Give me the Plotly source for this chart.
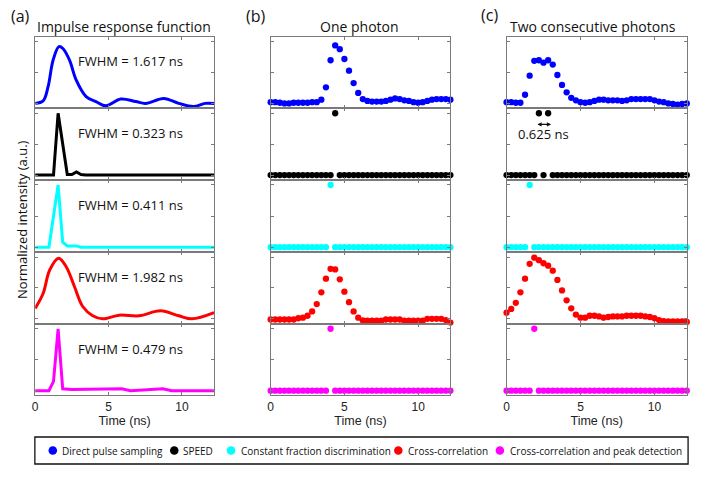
import plotly.graph_objects as go

W, H = 707, 484

# ---------------- data ----------------
# (a) impulse response functions (time in ns, normalized intensity)
irf_dps_t = [0, 0.54, 0.88, 1.22, 1.62, 1.89, 2.34, 2.79, 3.47, 4.14, 4.82, 5.83, 6.85, 7.52, 8.76, 9.78, 10.79, 11.58, 12.1875]
irf_dps_v = [0.0, 0.04, 0.27, 0.70, 0.92, 0.89, 0.70, 0.38, 0.11, 0.03, -0.04, 0.07, 0.03, 0.0, 0.08, 0.0, -0.05, 0.0, 0.0]

irf_speed_t = [0, 1.25, 1.5625, 2.1875, 2.5, 2.8125, 3.125, 3.4375, 12.1875]
irf_speed_v = [0.0, 0.0, 1.0, 0.01, 0.01, 0.05, 0.01, 0.0, 0.0]

irf_cfd_t = [0, 0.9375, 1.5625, 1.875, 2.1875, 2.8125, 3.125, 12.1875]
irf_cfd_v = [0.0, 0.0, 1.0, 0.08, 0.02, 0.02, 0.0, 0.0]

irf_xc_t = [0, 0.54, 0.99, 1.6, 2.12, 2.68, 3.24, 3.92, 4.59, 5.72, 7.07, 8.54, 9.78, 10.68, 12.1875]
irf_xc_v = [0.17, 0.41, 0.79, 0.98, 0.84, 0.52, 0.20, 0.05, 0.0, 0.06, 0.05, 0.13, 0.05, 0.0, 0.10]

irf_xcpd_t = [0, 0.9375, 1.25, 1.5625, 1.875, 2.5, 5.9, 6.5, 8.7, 9.3, 12.1875]
irf_xcpd_v = [0.0, 0.0, 0.15, 1.0, 0.03, 0.02, 0.03, 0.0, 0.03, 0.0, 0.0]

irf_fwhm = ["FWHM = 1.617 ns", "FWHM = 0.323 ns", "FWHM = 0.411 ns", "FWHM = 1.982 ns", "FWHM = 0.479 ns"]

# sample times (ns) for (b) and (c)
t_s = [0, 0.3125, 0.625, 0.9375, 1.25, 1.5625, 1.875, 2.1875, 2.5, 2.8125,
       3.125, 3.4375, 3.75, 4.0625, 4.375, 4.6875, 5.0, 5.3125, 5.625, 5.9375,
       6.25, 6.5625, 6.875, 7.1875, 7.5, 7.8125, 8.125, 8.4375, 8.75, 9.0625,
       9.375, 9.6875, 10.0, 10.3125, 10.625, 10.9375, 11.25, 11.5625, 11.875, 12.1875]

# (b) one photon
one_dps = [0.02, 0.02, 0.01, 0.0, 0.0, 0.01, 0.01, 0.01, 0.01, 0.02,
           0.02, 0.06, 0.26, 0.70, 0.94, 0.88, 0.72, 0.53, 0.33, 0.17,
           0.07, 0.04, 0.03, 0.03, 0.03, 0.04, 0.06, 0.08, 0.07, 0.05,
           0.04, 0.02, 0.01, 0.02, 0.04, 0.06, 0.07, 0.07, 0.07, 0.06]
one_speed = [0, 0, 0, 0, 0, 0, 0, 0, 0, 0,
             0, 0, 0, 0, 1, 0, 0, 0, 0, 0,
             0, 0, 0, 0, 0, 0, 0, 0, 0, 0,
             0, 0, 0, 0, 0, 0, 0, 0, 0, 0]
one_cfd = [0, 0, 0, 0, 0, 0, 0, 0, 0, 0,
           0, 0, 0, 1, 0, 0, 0, 0, 0, 0,
           0, 0, 0, 0, 0, 0, 0, 0, 0, 0,
           0, 0, 0, 0, 0, 0, 0, 0, 0, 0]
one_xc = [-0.01, -0.01, -0.01, -0.01, -0.01, -0.01, 0.01, 0.02, 0.05, 0.12,
          0.24, 0.43, 0.65, 0.81, 0.80, 0.64, 0.44, 0.27, 0.12, 0.02,
          -0.025, -0.03, -0.03, -0.03, -0.03, -0.01, -0.01, -0.01, -0.01, -0.03,
          -0.03, -0.03, -0.03, -0.03, 0.0, 0.0, 0.0, 0.0, -0.02, -0.06]
one_xcpd = [0, 0, 0, 0, 0, 0, 0, 0, 0, 0,
            0, 0, 0, 1, 0, 0, 0, 0, 0, 0,
            0, 0, 0, 0, 0, 0, 0, 0, 0, 0,
            0, 0, 0, 0, 0, 0, 0, 0, 0, 0]

# (c) two consecutive photons
two_dps = [0.02, 0.02, 0.01, 0.01, 0.14, 0.45, 0.69, 0.70, 0.66, 0.70,
           0.63, 0.46, 0.30, 0.18, 0.09, 0.05, 0.02, 0.01, 0.02, 0.04,
           0.06, 0.06, 0.05, 0.05, 0.05, 0.04, 0.05, 0.07, 0.07, 0.07,
           0.07, 0.07, 0.05, 0.03, 0.02, 0.0, -0.01, -0.02, -0.01, 0.0]
two_speed = [0, 0, 0, 0, 0, 0, 0, 1, 0, 1,
             0, 0, 0, 0, 0, 0, 0, 0, 0, 0,
             0, 0, 0, 0, 0, 0, 0, 0, 0, 0,
             0, 0, 0, 0, 0, 0, 0, 0, 0, 0]
two_cfd = [0, 0, 0, 0, 0, 1, 0, 0, 0, 0,
           0, 0, 0, 0, 0, 0, 0, 0, 0, 0,
           0, 0, 0, 0, 0, 0, 0, 0, 0, 0,
           0, 0, 0, 0, 0, 0, 0, 0, 0, 0]
two_xc = [0.10, 0.16, 0.26, 0.43, 0.65, 0.89, 0.99, 0.95, 0.90, 0.86,
          0.78, 0.63, 0.46, 0.30, 0.17, 0.07, 0.02, 0.02, 0.05, 0.05,
          0.04, 0.02, 0.03, 0.04, 0.04, 0.04, 0.05, 0.05, 0.05, 0.05,
          0.04, 0.03, 0.01, -0.02, -0.035, -0.04, -0.04, -0.04, -0.04, -0.05]
two_xcpd = [0, 0, 0, 0, 0, 0, 1, 0, 0, 0,
            0, 0, 0, 0, 0, 0, 0, 0, 0, 0,
            0, 0, 0, 0, 0, 0, 0, 0, 0, 0,
            0, 0, 0, 0, 0, 0, 0, 0, 0, 0]

method_names = ["Direct pulse sampling", "SPEED", "Constant fraction discrimination",
                "Cross-correlation", "Cross-correlation and peak detection"]
method_colors = ["#0000FF", "#000000", "#00FFFF", "#FF0000", "#FF00FF"]
col_titles = ["Impulse response function", "One photon", "Two consecutive photons"]
col_tags = ["(a)", "(b)", "(c)"]
x_ticks = [0, 5, 10]
y_ticks = [0, 0.5, 1]
sep_label = "0.625 ns"

# ---------------- layout geometry (pixels) ----------------
col_x = [(32.3, 212.0), (268.8, 449.3), (505.7, 686.7)]
row_y = [(36.5, 108.0), (108.0, 179.7), (179.7, 251.8), (251.8, 323.5), (323.5, 395.3)]
XR = [0, 12.1875]
YR = [-0.075, 1.085]
AX = "#7a7a7a"
TXT = "Open Sans"

fig = go.Figure()

irf = [(irf_dps_t, irf_dps_v, "spline"), (irf_speed_t, irf_speed_v, "linear"),
       (irf_cfd_t, irf_cfd_v, "linear"), (irf_xc_t, irf_xc_v, "spline"),
       (irf_xcpd_t, irf_xcpd_v, "linear")]
one = [one_dps, one_speed, one_cfd, one_xc, one_xcpd]
two = [two_dps, two_speed, two_cfd, two_xc, two_xcpd]

def ax_id(r, c):
    return r * 3 + c + 1

for r in range(5):
    n = ax_id(r, 0)
    t, v, shp = irf[r]
    fig.add_trace(go.Scatter(x=t, y=v, mode="lines", line=dict(color=method_colors[r], width=3, shape=shp),
                             xaxis=f"x{n}", yaxis=f"y{n}", showlegend=False))
    for c, data in ((1, one), (2, two)):
        n = ax_id(r, c)
        fig.add_trace(go.Scatter(x=t_s, y=data[r], mode="markers",
                                 marker=dict(color=method_colors[r], size=6.3, line=dict(width=0)),
                                 cliponaxis=False, xaxis=f"x{n}", yaxis=f"y{n}", showlegend=False))

layout = dict(width=W, height=H, margin=dict(l=0, r=0, t=0, b=0), autosize=False,
              paper_bgcolor="white", plot_bgcolor="white", showlegend=False)

for r in range(5):
    for c in range(3):
        n = ax_id(r, c)
        x0, x1 = col_x[c]
        y0, y1 = row_y[r]
        sfx = "" if n == 1 else str(n)
        bottom = (r == 4)
        layout["xaxis" + sfx] = dict(
            domain=[x0 / W, x1 / W], anchor=f"y{n}", range=XR, tickvals=x_ticks,
            ticks="inside", ticklen=3, tickcolor=AX, showline=True, linecolor=AX, linewidth=1,
            mirror="allticks", showgrid=False, zeroline=False, showticklabels=bottom,
            tickfont=dict(family="Liberation Sans", size=12, color="#222"),
            title=dict(text="Time (ns)" if bottom else "", standoff=3,
                       font=dict(family="Liberation Sans", size=12.5, color="#222")))
        layout["yaxis" + sfx] = dict(
            domain=[(H - y1) / H, (H - y0) / H], anchor=f"x{n}", range=YR, tickvals=y_ticks,
            ticks="inside", ticklen=3, tickcolor=AX, showline=True, linecolor=AX, linewidth=1,
            mirror="allticks", showgrid=False, zeroline=False, showticklabels=False)

fig.update_layout(**layout)

ann = []
title_pos = [(122, 27), (358, 26), (593, 27)]
tag_pos = [(17.5, 16), (254, 16), (489, 15)]
for c in range(3):
    ann.append(dict(text=col_titles[c], x=title_pos[c][0] / W, y=1 - title_pos[c][1] / H, xref="paper", yref="paper",
                    showarrow=False, xanchor="center", yanchor="middle", font=dict(family=TXT, size=14, color="#111")))
    ann.append(dict(text=col_tags[c], x=tag_pos[c][0] / W, y=1 - tag_pos[c][1] / H, xref="paper", yref="paper",
                    showarrow=False, xanchor="center", yanchor="middle", font=dict(family=TXT, size=16, color="#111")))
for r in range(5):
    ann.append(dict(text=irf_fwhm[r], x=127.7 / W, y=1 - (row_y[r][0] + 25) / H, xref="paper", yref="paper",
                    showarrow=False, xanchor="center", yanchor="middle", font=dict(family=TXT, size=13, color="#111")))
ann.append(dict(text="Normalized intensity (a.u.)", x=19 / W, y=1 - 220 / H, xref="paper", yref="paper",
                showarrow=False, textangle=-90, xanchor="center", yanchor="middle",
                font=dict(family=TXT, size=13, color="#111")))
# separation of the two SPEED events in (c)
n2 = ax_id(1, 2)
ann.append(dict(text="", x=t_s[9] + 0.2, y=0.82, ax=t_s[7] - 0.2, ay=0.82, xref=f"x{n2}", yref=f"y{n2}",
                axref=f"x{n2}", ayref=f"y{n2}", showarrow=True, arrowhead=2, arrowside="end+start",
                arrowsize=0.7, arrowwidth=1.2, arrowcolor="#111"))
ann.append(dict(text=sep_label, x=(t_s[7] + t_s[9]) / 2, y=0.66, xref=f"x{n2}", yref=f"y{n2}",
                showarrow=False, xanchor="center", yanchor="middle", font=dict(family=TXT, size=13, color="#111")))

# legend (drawn manually in a box)
shapes = [dict(type="rect", xref="paper", yref="paper", x0=32 / W, x1=688 / W, y0=1 - 464 / H, y1=1 - 437 / H,
               line=dict(color="#111", width=1.3), fillcolor="white")]
leg_marker_x = [50, 172, 229, 397, 499]
leg_text_x = [57, 179, 237, 405, 507]
leg_y = 450.5
rad = 4.3
for i in range(5):
    cx = leg_marker_x[i]
    shapes.append(dict(type="circle", xref="paper", yref="paper", x0=(cx - rad) / W, x1=(cx + rad) / W,
                       y0=1 - (leg_y + rad) / H, y1=1 - (leg_y - rad) / H,
                       line=dict(width=0), fillcolor=method_colors[i]))
    ann.append(dict(text=method_names[i], x=leg_text_x[i] / W, y=1 - leg_y / H, xref="paper", yref="paper",
                    showarrow=False, xanchor="left", yanchor="middle", font=dict(family=TXT, size=10, color="#111")))

fig.update_layout(annotations=ann, shapes=shapes, hovermode=False)
fig.write_html("out.html", config={"displayModeBar": False, "staticPlot": True},
               post_script="document.body.style.margin='0px';document.body.style.overflow='hidden';")
